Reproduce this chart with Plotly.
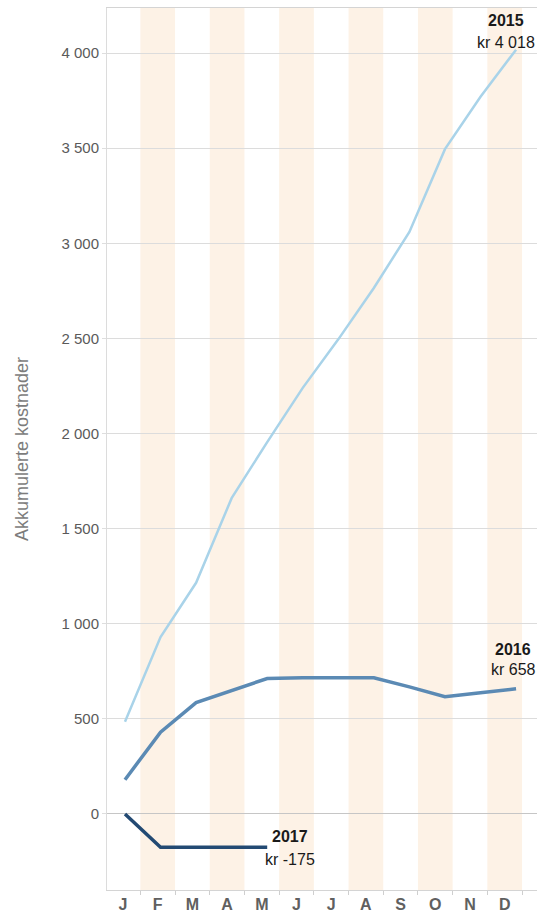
import plotly.graph_objects as go

# Month initials (Norwegian) and cumulative cost per year
months = ["J", "F", "M", "A", "M", "J", "J", "A", "S", "O", "N", "D"]
cost_2015 = [485, 930, 1215, 1660, 1955, 2240, 2495, 2765, 3060, 3495, 3770, 4018]
cost_2016 = [180, 430, 585, 650, 712, 716, 716, 716, 668, 616, 637, 658]
cost_2017 = [0, -175, -175, -175, -175]

y_ticks = [0, 500, 1000, 1500, 2000, 2500, 3000, 3500, 4000]
y_tick_text = ["0", "500", "1 000", "1 500", "2 000", "2 500", "3 000", "3 500", "4 000"]

FONT = "Liberation Sans Narrow, Arial Narrow, Liberation Sans, Arial, sans-serif"
TICK_GREY = "#5a5a5a"

c2015 = "#a9d3e9"
c2016 = "#5b8ab4"
c2017 = "#234a73"

idx = list(range(len(months)))

fig = go.Figure()

fig.add_trace(go.Scatter(x=idx[:len(cost_2015)], y=cost_2015, mode="lines",
                         line=dict(color=c2015, width=2.5), xaxis="x2", name="2015"))
fig.add_trace(go.Scatter(x=idx[:len(cost_2016)], y=cost_2016, mode="lines",
                         line=dict(color=c2016, width=3.5), xaxis="x2", name="2016"))
fig.add_trace(go.Scatter(x=idx[:len(cost_2017)], y=cost_2017, mode="lines",
                         line=dict(color=c2017, width=3.5), xaxis="x2", name="2017"))

# alternating month bands
shapes = []
for i in idx:
    if i % 2 == 1:
        shapes.append(dict(type="rect", xref="x", yref="paper", x0=i - 0.5, x1=i + 0.5,
                           y0=0, y1=1, fillcolor="#fdf2e6", line=dict(width=0), layer="below"))

annotations = []

def end_label(year, values, dx, dy_top, dy_bottom):
    last = len(values) - 1
    v = values[last]
    vtxt = f"{v:,}".replace(",", " ")
    annotations.append(dict(xref="x2", yref="y", x=last, y=v, text=f"<b>{year}</b>",
                            showarrow=False, xshift=dx, yshift=dy_top,
                            font=dict(family=FONT, size=16, color="#1a1a1a")))
    annotations.append(dict(xref="x2", yref="y", x=last, y=v, text=f"kr {vtxt}",
                            showarrow=False, xshift=dx, yshift=dy_bottom,
                            font=dict(family=FONT, size=16, color="#1a1a1a")))

end_label(2015, cost_2015, -10, 29, 7)
end_label(2016, cost_2016, -3, 39, 19)
end_label(2017, cost_2017, 23, 11, -12)

fig.update_layout(
    width=537, height=916,
    margin=dict(l=107, r=0, t=8, b=26),
    paper_bgcolor="white", plot_bgcolor="white",
    showlegend=False,
    shapes=shapes,
    annotations=annotations,
    font=dict(family=FONT, color=TICK_GREY),
    xaxis=dict(
        range=[-0.461, 11.931], tickmode="array", tickvals=idx,
        ticktext=[f"<b>{m}</b>" for m in months],
        showgrid=False, zeroline=False, ticks="", ticklen=0,
        tickfont=dict(family=FONT, size=16, color="#606060"),
        showline=True, linecolor="#d4d4d4", linewidth=1, mirror=True,
        minor=dict(tickmode="array", tickvals=[i - 0.5 for i in range(13)],
                   ticks="outside", ticklen=4, tickcolor="#cfcfcf"),
    ),
    xaxis2=dict(range=[-0.506, 11.589], overlaying="x", visible=False),
    yaxis=dict(
        range=[-400, 4237], tickmode="array", tickvals=y_ticks, ticktext=y_tick_text,
        showgrid=True, gridcolor="#dcdcdc", gridwidth=1,
        zeroline=True, zerolinecolor="#c6c6c6", zerolinewidth=1,
        ticks="outside", ticklen=4, tickcolor="#dedede",
        tickfont=dict(family=FONT, size=15, color=TICK_GREY),
        showline=True, linecolor="#dcdcdc", linewidth=1,
        title=dict(text="Akkumulerte kostnader", standoff=28,
                   font=dict(family=FONT, size=18, color="#7c7c7c")),
    ),
)

fig.write_html("out.html")
